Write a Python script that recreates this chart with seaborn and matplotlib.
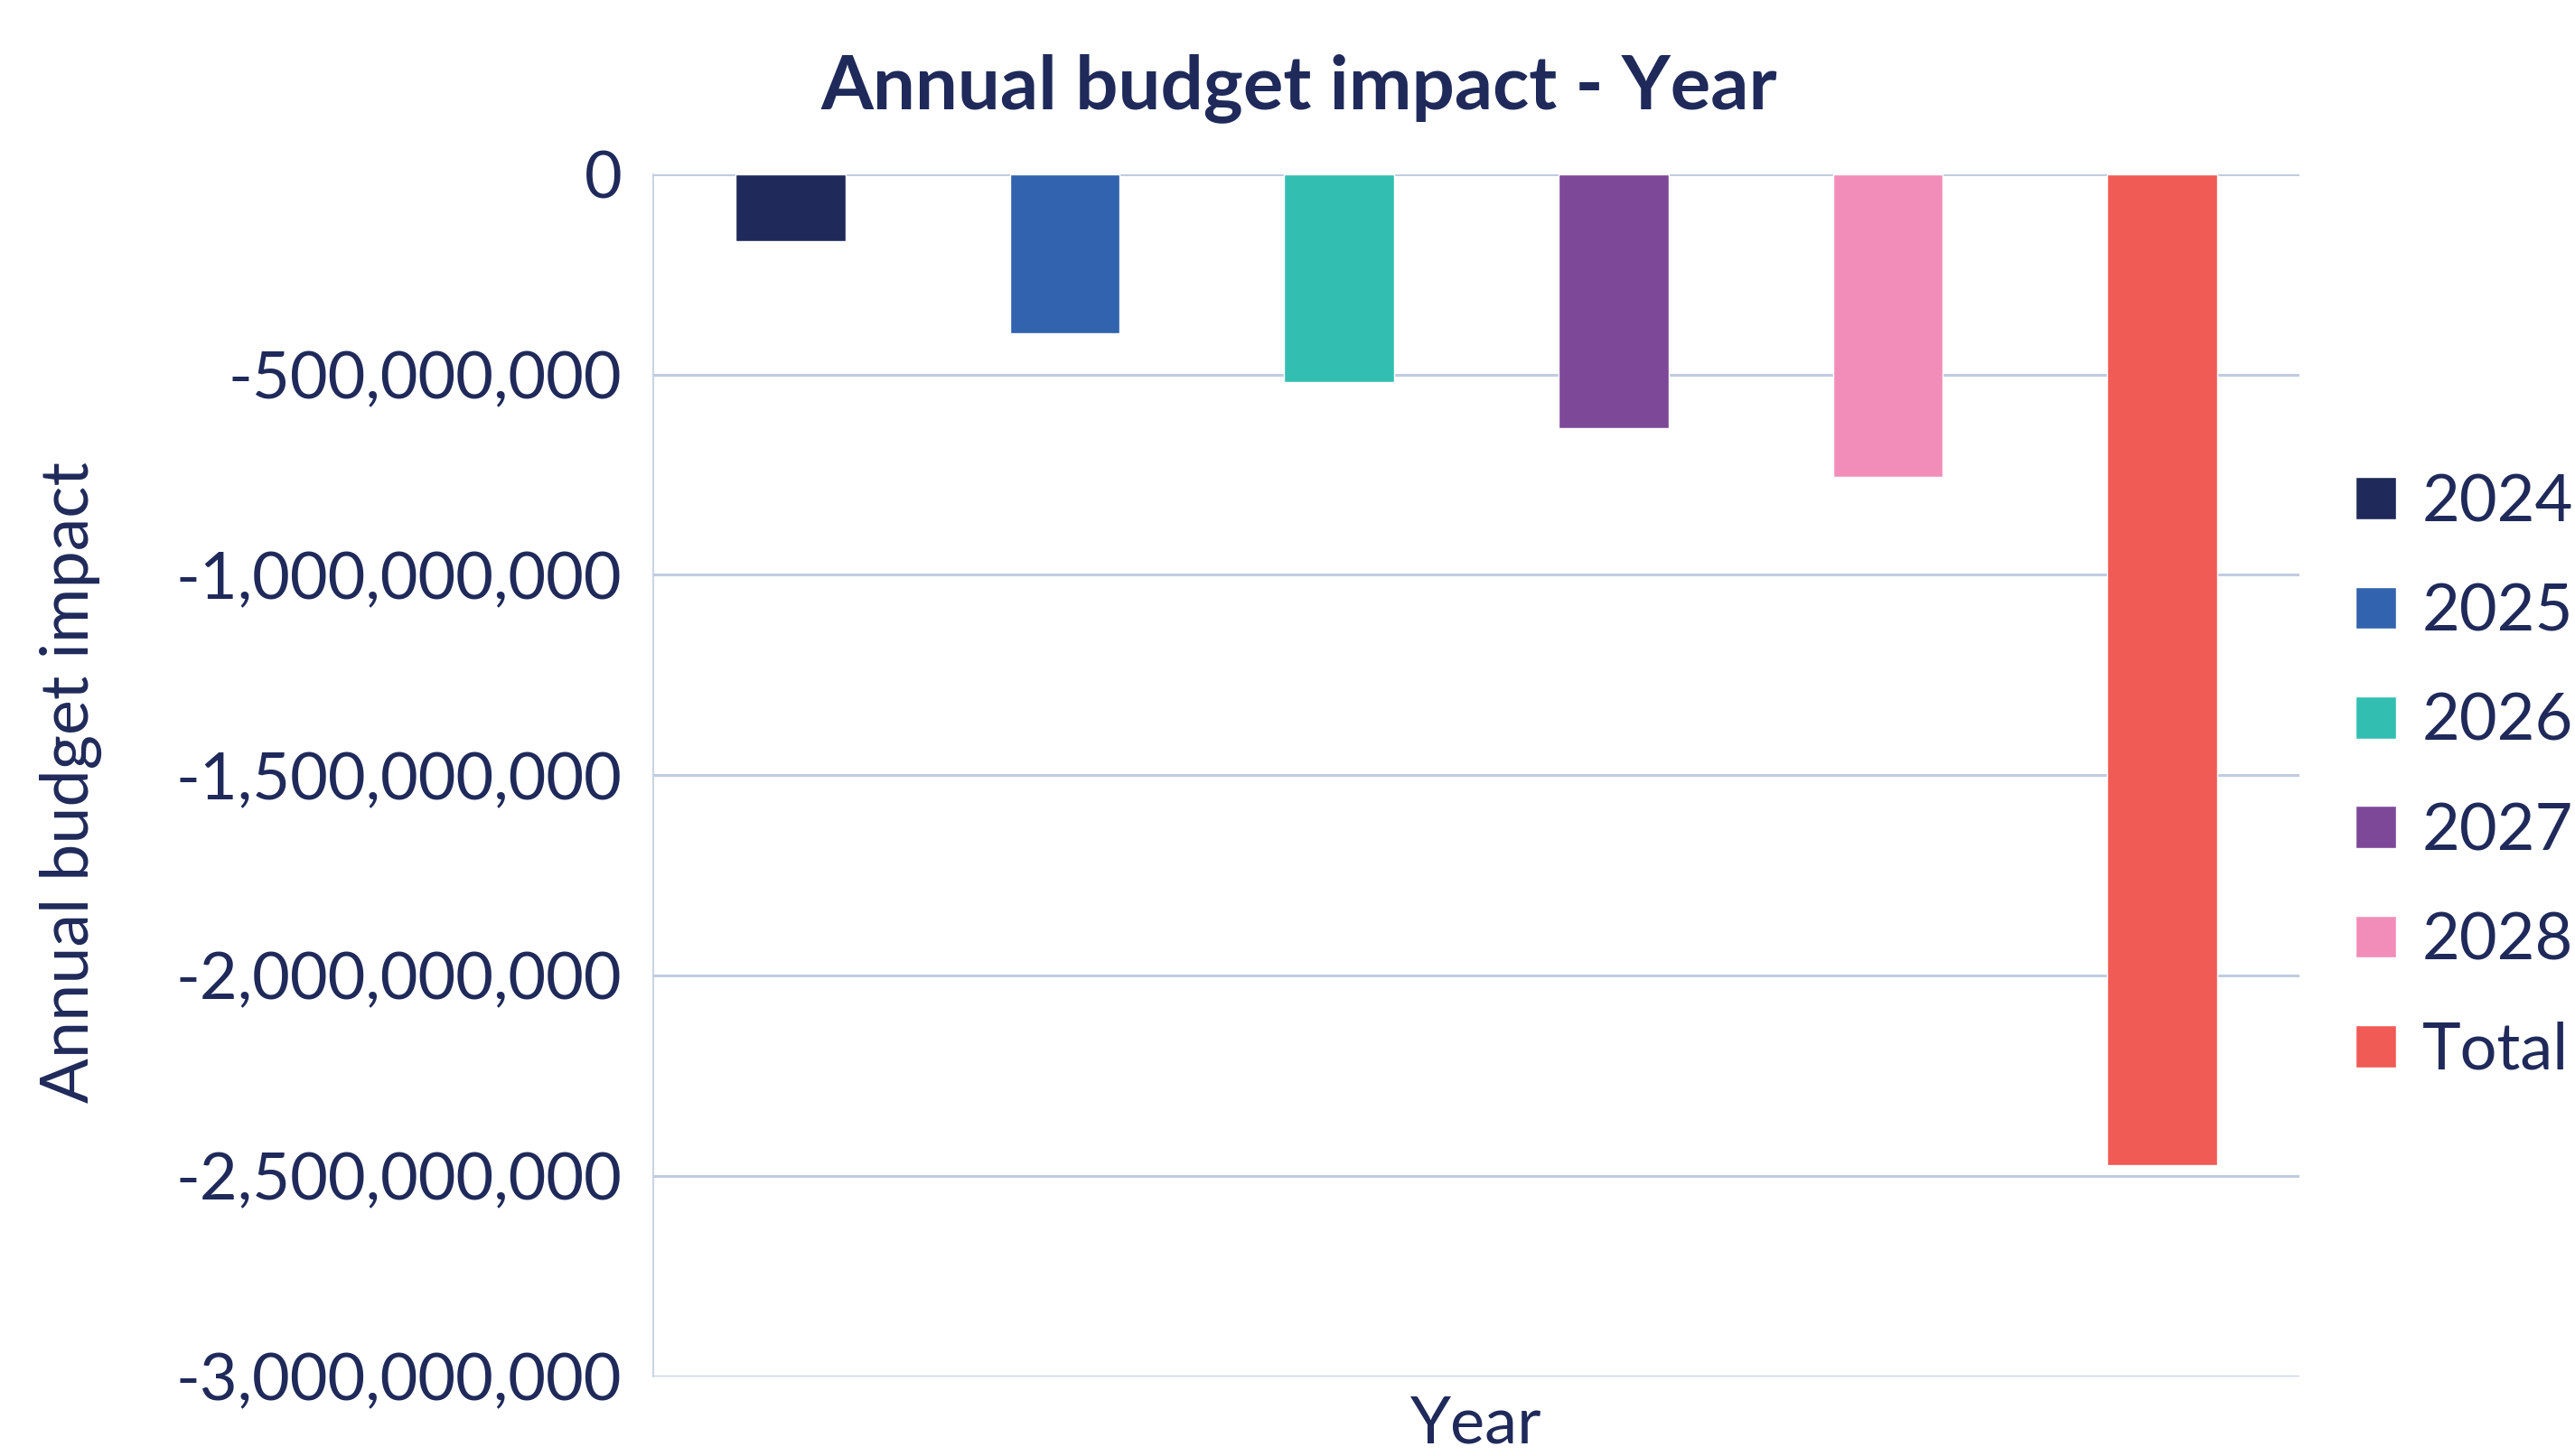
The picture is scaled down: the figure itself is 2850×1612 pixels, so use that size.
import matplotlib
matplotlib.use("Agg")
import matplotlib.pyplot as plt
import matplotlib.ticker as mticker
import seaborn as sns
import pandas as pd

# Data
series_labels = ["2024", "2025", "2026", "2027", "2028", "Total"]
values = [-167e6, -397e6, -519e6, -634e6, -756e6, -2473e6]
colors = ["#1F2A5A", "#3263AE", "#32BFB2", "#7E4899", "#F28DB9", "#F15B55"]
yticks = [0, -500e6, -1000e6, -1500e6, -2000e6, -2500e6, -3000e6]
title = "Annual budget impact - Year"
xlabel = "Year"
ylabel = "Annual budget impact"

TEXT = "#1F2A5A"
GRID = "#C0CCE0"

sns.set_theme(style="white")
plt.rcParams["font.family"] = ["Lato", "DejaVu Sans"]

df = pd.DataFrame({"Year": ["Year"] * len(series_labels),
                   "Series": series_labels,
                   "Value": values})

fig = plt.figure(figsize=(28.5, 16.12), dpi=100)
ax = fig.add_axes([723 / 2850, 1 - 1524 / 1612, (2545 - 723) / 2850, (1524 - 192.7) / 1612])

sns.barplot(data=df, x="Year", y="Value", hue="Series", hue_order=series_labels,
            palette=colors, width=1.0, gap=0.6, ax=ax, saturation=1, legend=True,
            zorder=3)

ax.set_xlim(-0.5, 0.5)
ax.set_ylim(-3e9, 0)
ax.set_yticks(yticks)
ax.yaxis.set_major_formatter(mticker.FuncFormatter(lambda v, p: f"{v:,.0f}"))
ax.tick_params(axis="y", labelsize=52, labelcolor=TEXT, length=0, pad=25)
ax.set_xticks([])
ax.set_xlabel("")
ax.set_ylabel("")
ax.grid(axis="y", color=GRID, linewidth=2.2, zorder=0)
ax.set_axisbelow(True)
for s in ["top", "right", "bottom"]:
    ax.spines[s].set_visible(False)
ax.spines["left"].set_color(GRID)
ax.spines["left"].set_linewidth(1.2)

handles, labels = ax.get_legend_handles_labels()
ax.legend(handles, labels, loc="center left", bbox_to_anchor=(2578 / 2850, 1 - 860 / 1612),
          bbox_transform=fig.transFigure, frameon=False, fontsize=52,
          labelcolor=TEXT, handlelength=0.62, handleheight=0.62, handletextpad=0.4,
          labelspacing=0.78, borderaxespad=0)

fig.text(1438 / 2850, 1 - 120 / 1612, title, ha="center", va="baseline",
         fontsize=60, fontweight="bold", color=TEXT)
fig.text(78 / 2850, 1 - 866 / 1612, ylabel, ha="center", va="center", rotation=90,
         fontsize=53, color=TEXT)
fig.text(1634 / 2850, 1 - 1609 / 1612, xlabel, ha="center", va="bottom",
         fontsize=52, color=TEXT)

fig.savefig("out.png", dpi=100, facecolor="white")
